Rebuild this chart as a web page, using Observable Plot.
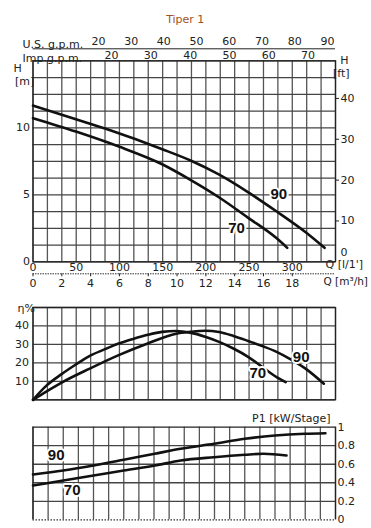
<!DOCTYPE html>
<html><head><meta charset="utf-8">
<script src="https://cdn.jsdelivr.net/npm/d3@7"></script>
<script src="https://cdn.jsdelivr.net/npm/@observablehq/plot@0.6"></script>
<style>
body{margin:0;background:#fff;}
#wrap{position:relative;width:371px;height:528px;overflow:hidden;background:#fff;}
#wrap svg{position:absolute;left:0;}
</style></head><body>
<div id="wrap"></div>
<script>
// ---------- data ----------
const chartTitle = "Tiper 1";
const models = ["90", "70"];
// H-Q curves (Q in m3/h, H in m)
const hq90Q = [0, 2.98, 5.31, 8.93, 10.94, 12.93, 14.92, 16.92, 18.93, 20.24];
const hq90H = [11.66, 10.64, 9.83, 8.42, 7.56, 6.5, 5.2, 3.75, 2.2, 1.04];
const hq70Q = [0, 2.98, 5.96, 8.93, 10.96, 12.93, 14.92, 16.92, 17.65];
const hq70H = [10.72, 9.72, 8.6, 7.3, 6.1, 4.8, 3.3, 1.75, 1.04];
// efficiency curves (%)
const eff90Q = [0, 0.95, 1.96, 3.94, 5.95, 7.96, 9.94, 10.91, 11.95, 12.92, 13.91, 14.93, 15.92, 16.91, 17.92, 18.92, 20.19];
const eff90E = [0, 4.6, 9.2, 16.9, 24.2, 30.5, 35.8, 36.8, 37.4, 36.7, 34.6, 31.9, 29.1, 26, 21.8, 16.9, 8.7];
const eff70Q = [0, 0.95, 1.96, 2.95, 3.94, 4.96, 5.95, 6.95, 7.96, 8.95, 9.94, 10.91, 11.95, 12.92, 13.91, 14.93, 15.92, 16.91, 17.54];
const eff70E = [0, 7.8, 13.8, 19.0, 23.8, 27.3, 30.5, 33.0, 35.2, 36.8, 37.3, 36.4, 34.2, 31.4, 27.8, 23.3, 17.8, 12.3, 9.6];
// power curves (kW/stage)
const p90Q = [0, 2.1, 4.2, 6.3, 8.45, 10.25, 12.56, 14.7, 16.8, 18.87, 20.3];
const p90P = [0.489, 0.532, 0.586, 0.648, 0.713, 0.767, 0.821, 0.875, 0.91, 0.929, 0.935];
const p70Q = [0, 2.1, 4.2, 6.3, 8.45, 10.25, 12.56, 14.7, 16.0, 17.6];
const p70P = [0.37, 0.424, 0.478, 0.532, 0.586, 0.64, 0.676, 0.702, 0.713, 0.694];
// curve label anchors (data units)
const hqLabelQ = [17.06, 14.13], hqLabelH = [5.07, 2.54];
const effLabelQ = [18.62, 15.61], effLabelE = [23.2, 14.3];
const pLabelQ = [1.61, 2.72], pLabelP = [0.694, 0.317];
// tick labels
const usGpmTicks = [20, 30, 40, 50, 60, 70, 80, 90];
const impGpmTicks = [20, 30, 40, 50, 60, 70];
const lpmTicks = [0, 50, 100, 150, 200, 250, 300];
const m3hTicks = [0, 2, 4, 6, 8, 10, 12, 14, 16, 18];
const hmTicks = [0, 5, 10];
const hftTicks = [10, 20, 30, 40];
const effTicks = [10, 20, 30, 40];
const pTicks = [0, 0.2, 0.4, 0.6, 0.8, 1];

// ---------- helpers ----------
const US = 4.40287, IMP = 3.66615, LPM = 1000 / 60, FT = 0.3048;
const rows = (qs, vs, m) => qs.map((q, i) => ({q, v: vs[i], m}));
const hqRows = [...rows(hq90Q, hq90H, "90"), ...rows(hq70Q, hq70H, "70")];
const effRows = [...rows(eff90Q, eff90E, "90"), ...rows(eff70Q, eff70E, "70")];
const pRows = [...rows(p90Q, p90P, "90"), ...rows(p70Q, p70P, "70")];
const lab = (qs, vs) => models.map((m, i) => ({q: qs[i], v: vs[i], m}));

const FONT = "DejaVu Sans, sans-serif";
const style = {fontFamily: FONT, fontSize: "11px", color: "#222", background: "transparent"};
const curveOpt = {x: "q", y: "v", z: "m", curve: "monotone-x", stroke: "#111", strokeWidth: 2.6};
const labOpt = {x: "q", y: "v", text: "m", fontFamily: "Liberation Sans, Arial, sans-serif", fontWeight: "bold",
  fontSize: 15, fill: "#111", stroke: "white", strokeWidth: 4, paintOrder: "stroke"};
const vGrid = {stroke: "#555", strokeWidth: 1.3};
const hGrid = {stroke: "#444", strokeWidth: 1.3};
const txt = {fontFamily: FONT, fontSize: 11, fill: "#222"};

const wrap = document.getElementById("wrap");
function place(svg, top) { svg.style.top = top + "px"; wrap.appendChild(svg); }

// ---------- H-Q chart ----------
const p1 = Plot.plot({
  width: 371, height: 290,
  marginLeft: 32.5, marginRight: 36, marginTop: 60.3, marginBottom: 28.7,
  x: {domain: [0, 21]}, y: {domain: [0, 15]},
  style,
  marks: [
    Plot.ruleX(d3.range(0, 22), vGrid),
    Plot.ruleY(d3.range(0, 15.01, 1.25), hGrid),
    Plot.frame({stroke: "#222", strokeWidth: 1.3}),
    Plot.axisY({anchor: "left", ticks: hmTicks, tickSize: 0, tickPadding: 3, label: null}),
    Plot.axisY({anchor: "right", ticks: hftTicks.map(f => f * FT), tickFormat: d => Math.round(d / FT), tickSize: 3, tickPadding: 2, label: null}),
    Plot.axisY({anchor: "right", ticks: [0], tickFormat: () => "0", tickSize: 0, tickPadding: 5, dy: -9.5, label: null}),
    Plot.axisX({anchor: "bottom", ticks: lpmTicks.map(v => v / LPM), tickFormat: d => Math.round(d * LPM), tickSize: 0, tickPadding: 1, label: null}),
    Plot.ruleY([0], {dy: 12, stroke: "#333", strokeDasharray: "1.5,1"}),
    Plot.axisX({anchor: "bottom", ticks: m3hTicks, tickSize: 3, tickPadding: 2, dy: 12, label: null}),
    Plot.ruleY([15], {dy: -12, stroke: "#222"}),
    Plot.axisX({anchor: "top", ticks: usGpmTicks.map(g => g / US), tickFormat: d => Math.round(d * US), tickSize: 0, tickPadding: 4, dy: -12, label: null}),
    Plot.axisX({anchor: "top", ticks: impGpmTicks.map(g => g / IMP), tickFormat: d => Math.round(d * IMP), tickSize: 0, tickPadding: 2, label: null}),
    Plot.text([chartTitle], {frameAnchor: "top", dx: 1, dy: -46, fontFamily: FONT, fontSize: 11, fill: "#a0521e"}),
    Plot.text(["U.S. g.p.m."], {...txt, frameAnchor: "top-left", textAnchor: "start", dx: -10.5, dy: -21}),
    Plot.text(["Imp g.p.m."], {...txt, frameAnchor: "top-left", textAnchor: "start", dx: -10.5, dy: -6.5}),
    Plot.text(["H"], {...txt, frameAnchor: "top-left", dx: -19.5, dy: 3.5}),
    Plot.text(["[m]"], {...txt, frameAnchor: "top-left", dx: -18, dy: 16.5}),
    Plot.text(["H"], {...txt, frameAnchor: "top-right", dx: 13, dy: -5}),
    Plot.text(["[ft]"], {...txt, frameAnchor: "top-right", dx: 14, dy: 8}),
    Plot.text(["Q [l/1']"], {...txt, frameAnchor: "bottom-right", textAnchor: "start", dx: -10, dy: 6.5}),
    Plot.text(["Q [m³/h]"], {...txt, fontSize: 10.5, frameAnchor: "bottom-right", textAnchor: "start", dx: -12, dy: 22.7}),
    Plot.line(hqRows, curveOpt),
    Plot.text(lab(hqLabelQ, hqLabelH), labOpt)
  ]
});
place(p1, 0);

// ---------- efficiency chart ----------
const p2 = Plot.plot({
  width: 371, height: 115,
  marginLeft: 32.5, marginRight: 36, marginTop: 17, marginBottom: 5.7,
  x: {domain: [0, 21], axis: null}, y: {domain: [0, 50]},
  style,
  marks: [
    Plot.ruleX(d3.range(0, 22), vGrid),
    Plot.ruleY(d3.range(0, 50.01, 10), hGrid),
    Plot.frame({stroke: "#222", strokeWidth: 1.3}),
    Plot.axisY({anchor: "left", ticks: effTicks, tickSize: 0, tickPadding: 4, label: null}),
    Plot.text(["η%"], {...txt, frameAnchor: "top-left", dx: -15.5, dy: -3}),
    Plot.line(effRows, curveOpt),
    Plot.text(lab(effLabelQ, effLabelE), labOpt)
  ]
});
place(p2, 290);

// ---------- power chart ----------
const p3 = Plot.plot({
  width: 371, height: 123,
  marginLeft: 32.5, marginRight: 36, marginTop: 21.7, marginBottom: 8.7,
  x: {domain: [0, 21], axis: null}, y: {domain: [0, 1]},
  style,
  marks: [
    Plot.ruleX(d3.range(0, 21.01, 1.05), vGrid),
    Plot.ruleY([0.2, 0.4, 0.6, 0.8], hGrid),
    Plot.ruleY([1], {stroke: "#222", strokeWidth: 1.3}),
    Plot.ruleX([0, 21], {stroke: "#222", strokeWidth: 1.3}),
    Plot.ruleY([0], {stroke: "#333", strokeWidth: 1.2, strokeDasharray: "1.5,1.5"}),
    Plot.axisY({anchor: "right", ticks: pTicks, tickFormat: d => (d === 0 || d === 1) ? String(d) : d.toFixed(1), tickSize: 0, tickPadding: 2, label: null}),
    Plot.text(["P1 [kW/Stage]"], {...txt, frameAnchor: "top-right", textAnchor: "end", dx: -5, dy: -12.7}),
    Plot.line(pRows, curveOpt),
    Plot.text(lab(pLabelQ, pLabelP), labOpt)
  ]
});
place(p3, 405);
</script>
</body></html>
